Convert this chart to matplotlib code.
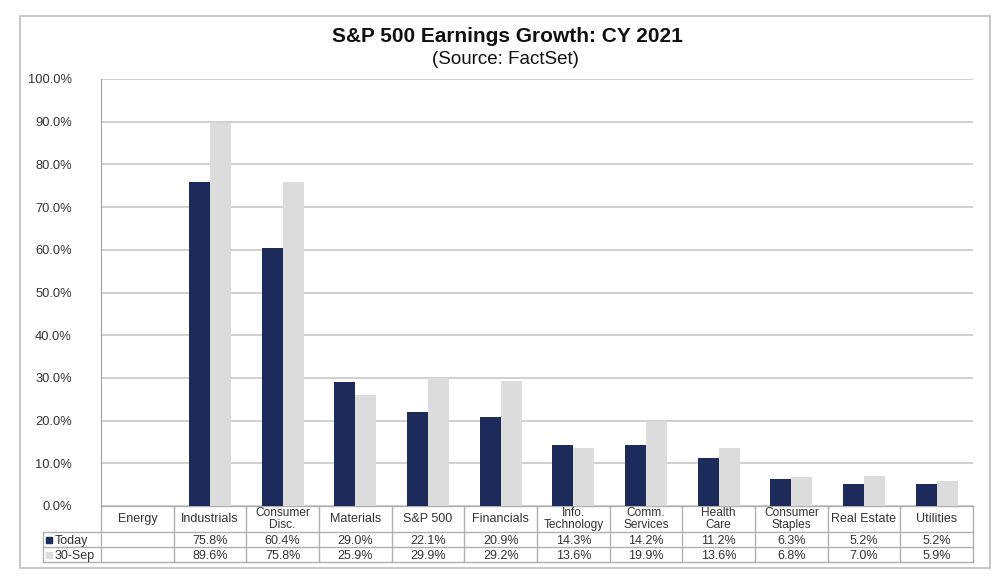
import matplotlib.pyplot as plt
import numpy as np
from matplotlib.patches import Rectangle

plt.rcParams['font.family'] = ['Liberation Sans', 'DejaVu Sans']

categories = ['Energy', 'Industrials', 'Consumer\nDisc.', 'Materials', 'S&P 500', 'Financials',
              'Info.\nTechnology', 'Comm.\nServices', 'Health\nCare', 'Consumer\nStaples',
              'Real Estate', 'Utilities']
today = [np.nan, 75.8, 60.4, 29.0, 22.1, 20.9, 14.3, 14.2, 11.2, 6.3, 5.2, 5.2]
sep30 = [np.nan, 89.6, 75.8, 25.9, 29.9, 29.2, 13.6, 19.9, 13.6, 6.8, 7.0, 5.9]
series_names = ['Today', '30-Sep']

navy = '#1c2b5a'
light = '#dcdcdc'
grid_c = '#c8c8c8'
txt_c = '#333333'

fig = plt.figure(figsize=(10.04, 5.87), dpi=100)
W, H = 1004, 587

# outer chart frame
fig.patches.append(Rectangle((20 / W, 1 - 568 / H), 970 / W, 552 / H, transform=fig.transFigure,
                             fill=False, edgecolor='#bdbdbd', lw=1.2))

ax = fig.add_axes([101 / W, 1 - 506 / H, 872 / W, 427 / H])
n = len(categories)
x = np.arange(n)
bw = 0.29
ax.bar(x - bw / 2, today, bw, color=navy, zorder=3)
ax.bar(x + bw / 2, sep30, bw, color=light, zorder=3)

ax.set_xlim(-0.5, n - 0.5)
ax.set_ylim(0, 100)
ax.set_yticks(np.arange(0, 101, 10))
ax.set_yticklabels(['%.1f%%' % v for v in np.arange(0, 101, 10)], fontsize=9.3, color=txt_c)
ax.set_xticks([])
ax.tick_params(axis='y', length=0, pad=21)
ax.grid(axis='y', color=grid_c, lw=1.2, zorder=0)
for s in ['top', 'right', 'bottom']:
    ax.spines[s].set_visible(False)
ax.spines['left'].set_color('#a0a0a0')

fig.text(0.505, 1 - 37 / H, 'S&P 500 Earnings Growth: CY 2021', ha='center', va='center',
         fontsize=15, fontweight='bold', color='#111111')
fig.text(0.503, 1 - 59 / H, '(Source: FactSet)', ha='center', va='center',
         fontsize=13.5, color='#111111')

# data table below the axes
cw = 1 / n                  # column width in axes fraction
lab_w = (101 - 43) / 872
hdr_h = 26 / 427
row_h = 15 / 427
tab_color = '#b0b0b0'
tfs = 9.0


def hline(y, x0, x1):
    ax.plot([x0, x1], [y, y], transform=ax.transAxes, color=tab_color, lw=1, clip_on=False)


def vline(xv, y0, y1):
    ax.plot([xv, xv], [y0, y1], transform=ax.transAxes, color=tab_color, lw=1, clip_on=False)


y_top = 0
y_h = -hdr_h
y_r1 = y_h - row_h
y_r2 = y_r1 - row_h
hline(y_top, 0, 1)
hline(y_h, -lab_w, 1)
hline(y_r1, -lab_w, 1)
hline(y_r2, -lab_w, 1)
vline(-lab_w, y_h, y_r2)
for i in range(n + 1):
    vline(i * cw, y_top, y_r2)

for i, cat in enumerate(categories):
    cx = (i + 0.5) * cw
    fs = tfs if '\n' not in cat else 8.6
    ax.text(cx, (y_top + y_h) / 2, cat, transform=ax.transAxes, ha='center', va='center',
            fontsize=fs, color=txt_c, linespacing=1.0)
    for vals, yr in [(today, (y_h + y_r1) / 2), (sep30, (y_r1 + y_r2) / 2)]:
        v = vals[i]
        if not np.isnan(v):
            ax.text(cx, yr, '%.1f%%' % v, transform=ax.transAxes, ha='center',
                    va='center_baseline', fontsize=tfs, color=txt_c)

for name, col, yr in [(series_names[0], navy, (y_h + y_r1) / 2),
                      (series_names[1], light, (y_r1 + y_r2) / 2)]:
    ax.scatter([-lab_w + 6 / 872], [yr], s=14, marker='s', color=col,
               transform=ax.transAxes, clip_on=False)
    ax.text(-lab_w + 12 / 872, yr, name, transform=ax.transAxes, ha='left',
            va='center_baseline', fontsize=tfs, color=txt_c)

fig.savefig('out.png', dpi=100)
